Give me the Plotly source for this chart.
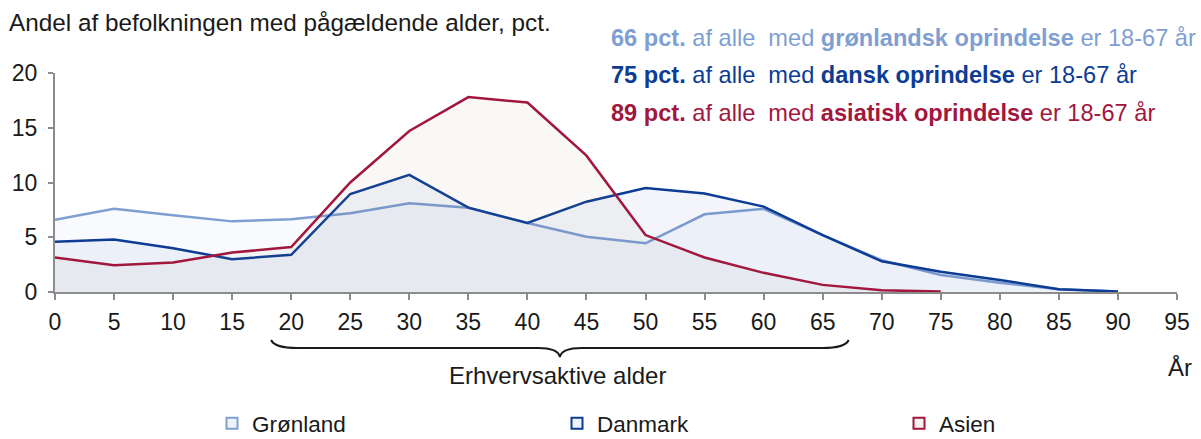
import plotly.graph_objects as go

ages = [0, 5, 10, 15, 20, 25, 30, 35, 40, 45, 50, 55, 60, 65, 70, 75, 80, 85, 90]
groenland = [6.6, 7.6, 7.0, 6.45, 6.65, 7.2, 8.1, 7.7, 6.3, 5.05, 4.45, 7.1, 7.6, 5.2, 2.9, 1.55, 0.85, 0.25, 0.05]
danmark = [4.6, 4.8, 4.0, 3.0, 3.4, 8.95, 10.7, 7.7, 6.3, 8.25, 9.5, 9.0, 7.8, 5.2, 2.8, 1.85, 1.1, 0.25, 0.05]
ages_asien = [0, 5, 10, 15, 20, 25, 30, 35, 40, 45, 50, 55, 60, 65, 70, 75]
asien = [3.15, 2.45, 2.7, 3.6, 4.1, 10.0, 14.7, 17.8, 17.3, 12.45, 5.2, 3.15, 1.75, 0.65, 0.15, 0.05]

series_names = ["Grønland", "Danmark", "Asien"]
line_colors = ["#7f9fd2", "#0c3c94", "#a1173d"]
fill_colors = ["rgba(200,215,240,0.13)", "rgba(13,61,150,0.05)", "rgba(150,130,125,0.06)"]
legend_fill = ["#eef2f9", "#eef2f9", "#f6f1f2"]

x_ticks = list(range(0, 96, 5))
y_ticks = [0, 5, 10, 15, 20]

FONT = "Liberation Sans, Arial, sans-serif"

# plot area in pixels
L, R, T, B = 55, 24, 73, 147
W, H = 1201, 439
PW, PH = W - L - R, H - T - B


def px(xp):
    return (xp - L) / PW


def py(yp):
    return (H - B - yp) / PH


fig = go.Figure()
data = [(ages, groenland), (ages, danmark), (ages_asien, asien)]
for (xs, ys), name, lc, fc in zip(data, series_names, line_colors, fill_colors):
    fig.add_trace(go.Scatter(x=xs, y=ys, mode="lines", name=name, fill="tozeroy",
                             fillcolor=fc, line=dict(color=lc, width=2.5),
                             showlegend=False, hoverinfo="x+y"))

legend_ids = ["legend", "legend2", "legend3"]
for name, lc, lf, lid in zip(series_names, line_colors, legend_fill, legend_ids):
    fig.add_trace(go.Scatter(x=[None], y=[None], mode="markers", name=name,
                             marker=dict(symbol="square", size=11, color=lf,
                                         line=dict(color=lc, width=2)),
                             showlegend=True, legend=lid))

axis_grey = "#8c8c8c"
leg_common = dict(orientation="h", yanchor="bottom", xanchor="left",
                  font=dict(size=22.5), bgcolor="rgba(0,0,0,0)", itemwidth=30)
legend_text_x = [262, 607, 949]
leg_y = py(H + 6)
fig.update_layout(
    width=W, height=H,
    margin=dict(l=L, r=R, t=T, b=B, autoexpand=False),
    paper_bgcolor="white", plot_bgcolor="white",
    font=dict(family=FONT, size=23, color="#1a1a1a"),
    xaxis=dict(range=[0, 95], tickvals=x_ticks, showgrid=False, zeroline=False,
               showline=True, linecolor=axis_grey, linewidth=2, automargin=False,
               ticks="outside", ticklen=6, tickwidth=2, tickcolor=axis_grey,
               tickfont=dict(size=23), ticklabelstandoff=2),
    yaxis=dict(range=[0, 20], tickvals=y_ticks, showgrid=False, zeroline=False,
               showline=True, linecolor=axis_grey, linewidth=2, automargin=False,
               ticks="outside", ticklen=5, tickwidth=2, tickcolor=axis_grey,
               tickfont=dict(size=23), ticklabelstandoff=6),
    legend=dict(x=px(legend_text_x[0] - 50), y=leg_y, **leg_common),
    legend2=dict(x=px(legend_text_x[1] - 50), y=leg_y, **leg_common),
    legend3=dict(x=px(legend_text_x[2] - 50), y=leg_y, **leg_common),
    showlegend=True,
)

# Title
fig.add_annotation(text="Andel af befolkningen med pågældende alder, pct.",
                   xref="paper", yref="paper", x=px(7), y=py(23),
                   xanchor="left", yanchor="middle", showarrow=False,
                   font=dict(size=24.3))

# Right-hand notes
notes = [
    ("66 pct.", "grønlandsk oprindelse", line_colors[0], 38),
    ("75 pct.", "dansk oprindelse", line_colors[1], 75),
    ("89 pct.", "asiatisk oprindelse", line_colors[2], 113),
]
for pct, origin, col, yy in notes:
    fig.add_annotation(text=f"<b>{pct}</b> af alle  med <b>{origin}</b> er 18-67 år",
                       xref="paper", yref="paper", x=px(609), y=py(yy),
                       xanchor="left", yanchor="middle", showarrow=False,
                       font=dict(size=23.6, color=col))

# Brace for working age
b_end, b_line, b_tip = py(340), py(348), py(357)
brace = (f"M 18.3,{b_end} Q 18.6,{b_line} 20.5,{b_line} L 40.9,{b_line} "
         f"Q 42.6,{b_line} 42.75,{b_tip} Q 42.9,{b_line} 44.6,{b_line} "
         f"L 65.0,{b_line} Q 66.9,{b_line} 67.2,{b_end}")
fig.add_shape(type="path", path=brace, xref="x", yref="paper",
              line=dict(color="#1a1a1a", width=2))
fig.add_annotation(text="Erhvervsaktive alder", xref="paper", yref="paper",
                   x=px(557), y=py(375), xanchor="center", yanchor="middle",
                   showarrow=False, font=dict(size=24))
fig.add_annotation(text="År", xref="paper", yref="paper",
                   x=px(1180), y=py(367), xanchor="center", yanchor="middle",
                   showarrow=False, font=dict(size=24))

fig.write_html("out.html", config={"displayModeBar": False},
               post_script="document.body.style.margin='0';document.body.style.overflow='hidden';")
